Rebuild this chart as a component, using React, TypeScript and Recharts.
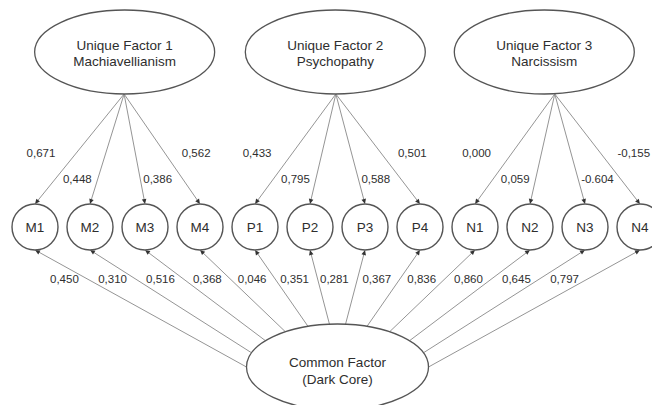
import React from 'react';
import { ScatterChart, Scatter, XAxis, YAxis } from 'recharts';

// ---------- data ----------
const indicators = ['M1', 'M2', 'M3', 'M4', 'P1', 'P2', 'P3', 'P4', 'N1', 'N2', 'N3', 'N4'];
const uniqueFactorTitles = ['Unique Factor 1', 'Unique Factor 2', 'Unique Factor 3'];
const uniqueFactorNames = ['Machiavellianism', 'Psychopathy', 'Narcissism'];
const uniqueLoadingLabels = ['0,671', '0,448', '0,386', '0,562', '0,433', '0,795', '0,588', '0,501', '0,000', '0,059', '-0.604', '-0,155'];
const commonLoadingLabels = ['0,450', '0,310', '0,516', '0,368', '0,046', '0,351', '0,281', '0,367', '0,836', '0,860', '0,645', '0,797'];
const commonFactorLines = ['Common Factor', '(Dark Core)'];

// ---------- layout (data units of the hidden axes) ----------
const ROW_UNIQUE = 0;
const ROW_IND = 5;
const ROW_COMMON = 9;
const ufCenter = [1.63, 5.46, 9.26];
const ufApex = [1.62, 5.47, 9.45];
const COMMON_X = 5.5;

const UF_RX = 90;
const UF_RY = 42;
const CF_RX = 91;
const CF_RY = 43;
const NODE_R = 23;

const FONT = '"Liberation Sans", Arial, Helvetica, sans-serif';
const TEXT = '#2e2e2e';
const EDGE = '#959595';
const OUTLINE = '#555';

const indicatorData = indicators.map((name, i) => ({ x: i, y: ROW_IND, name }));
const uniqueData = uniqueFactorTitles.map((t, g) => ({ x: ufCenter[g], y: ROW_UNIQUE, title: t, name: uniqueFactorNames[g] }));
const commonData = [{ x: COMMON_X, y: ROW_COMMON }];

const arrowHead = (x: number, y: number, ux: number, uy: number) => {
  const L = 5;
  const w = 2.3;
  const bx = x - ux * L;
  const by = y - uy * L;
  const px = -uy;
  const py = ux;
  return (
    <polygon
      points={`${x},${y} ${bx + px * w},${by + py * w} ${bx - px * w},${by - py * w}`}
      fill="#333"
      stroke="none"
    />
  );
};

const makeUniqueEdge = (i: number) => (props: any) => {
  const pts = props.points || [];
  if (pts.length < 2) return <g />;
  const s = pts[0];
  const t = pts[1];
  const x1 = s.x;
  const y1 = s.y + UF_RY;
  const x2 = t.x;
  const y2 = t.y - NODE_R;
  const len = Math.hypot(x2 - x1, y2 - y1);
  const ux = (x2 - x1) / len;
  const uy = (y2 - y1) / len;
  const k = i % 4;
  const frac = k === 0 || k === 3 ? 0.536 : 0.773;
  const lx = x1 + (x2 - x1) * frac;
  const ly = y1 + (y2 - y1) * frac;
  const offs = [-21, -6, 3, 17];
  const anchors = ['end', 'end', 'start', 'start'];
  return (
    <g>
      <line x1={x1} y1={y1} x2={x2 - ux * 3} y2={y2 - uy * 3} stroke={EDGE} strokeWidth={1} />
      {arrowHead(x2, y2, ux, uy)}
      <text
        x={lx + offs[k]}
        y={ly + 4}
        textAnchor={anchors[k] as any}
        fontFamily={FONT}
        fontSize={11.5}
        fill={TEXT}
      >
        {uniqueLoadingLabels[i]}
      </text>
    </g>
  );
};

const makeCommonEdge = (i: number) => (props: any) => {
  const pts = props.points || [];
  if (pts.length < 2) return <g />;
  const s = pts[0];
  const t = pts[1];
  const sv = (5.5 - i) / 5.5;
  const dev = 90 * Math.sign(sv) * Math.pow(Math.abs(sv), 1.2);
  const th = ((90 + dev) * Math.PI) / 180;
  const x1 = s.x + CF_RX * Math.cos(th);
  const y1 = s.y - CF_RY * Math.sin(th);
  const x2 = t.x;
  const y2 = t.y + NODE_R;
  const len = Math.hypot(x2 - x1, y2 - y1);
  const ux = (x2 - x1) / len;
  const uy = (y2 - y1) / len;
  const ly = y2 + 29;
  const lxLine = x2 + (x1 - x2) * ((ly - y2) / (y1 - y2));
  return (
    <g>
      <line x1={x1} y1={y1} x2={x2 - ux * 3} y2={y2 - uy * 3} stroke={EDGE} strokeWidth={1} />
      {arrowHead(x2, y2, ux, uy)}
      <text x={lxLine - 23} y={ly + 4} textAnchor="middle" fontFamily={FONT} fontSize={11.5} fill={TEXT}>
        {commonLoadingLabels[i]}
      </text>
    </g>
  );
};

const emptyShape = () => <g />;

const IndicatorShape = (props: any) => {
  const { cx, cy, payload } = props;
  return (
    <g>
      <circle cx={cx} cy={cy} r={NODE_R} fill="#fff" stroke={OUTLINE} strokeWidth={1.4} />
      <text x={cx} y={cy + 5} textAnchor="middle" fontFamily={FONT} fontSize={13.5} fill={TEXT}>
        {payload.name}
      </text>
    </g>
  );
};

const UniqueShape = (props: any) => {
  const { cx, cy, payload } = props;
  return (
    <g>
      <ellipse cx={cx} cy={cy} rx={UF_RX} ry={UF_RY} fill="#fff" stroke={OUTLINE} strokeWidth={1.3} />
      <text x={cx} y={cy - 2} textAnchor="middle" fontFamily={FONT} fontSize={13.5} fill={TEXT}>
        {payload.title}
      </text>
      <text x={cx} y={cy + 14} textAnchor="middle" fontFamily={FONT} fontSize={13.5} fill={TEXT}>
        {payload.name}
      </text>
    </g>
  );
};

const CommonShape = (props: any) => {
  const { cx, cy } = props;
  return (
    <g>
      <ellipse cx={cx} cy={cy} rx={CF_RX} ry={CF_RY} fill="#fff" stroke={OUTLINE} strokeWidth={1.3} />
      <text x={cx} y={cy + 0} textAnchor="middle" fontFamily={FONT} fontSize={13.5} fill={TEXT}>
        {commonFactorLines[0]}
      </text>
      <text x={cx} y={cy + 17} textAnchor="middle" fontFamily={FONT} fontSize={13.5} fill={TEXT}>
        {commonFactorLines[1]}
      </text>
    </g>
  );
};

export default function App() {
  return (
    <div style={{ width: 652, height: 405, overflow: 'hidden', background: '#fff' }}>
      <style>{'body{margin:0;background:#fff;}'}</style>
      <ScatterChart width={652} height={405} margin={{ top: 52, right: 12, bottom: 3, left: 35 }}>
        <XAxis type="number" dataKey="x" domain={[0, 11]} hide />
        <YAxis type="number" dataKey="y" domain={[0, 10]} reversed hide />
        {indicators.map((_, i) => {
          const g = Math.floor(i / 4);
          return (
            <Scatter
              key={`u-${i}`}
              data={[
                { x: ufApex[g], y: ROW_UNIQUE },
                { x: i, y: ROW_IND },
              ]}
              shape={emptyShape}
              line={makeUniqueEdge(i)}
              isAnimationActive={false}
            />
          );
        })}
        {indicators.map((_, i) => (
          <Scatter
            key={`c-${i}`}
            data={[
              { x: COMMON_X, y: ROW_COMMON },
              { x: i, y: ROW_IND },
            ]}
            shape={emptyShape}
            line={makeCommonEdge(i)}
            isAnimationActive={false}
          />
        ))}
        <Scatter data={uniqueData} shape={UniqueShape} isAnimationActive={false} />
        <Scatter data={commonData} shape={CommonShape} isAnimationActive={false} />
        <Scatter data={indicatorData} shape={IndicatorShape} isAnimationActive={false} />
      </ScatterChart>
    </div>
  );
}
